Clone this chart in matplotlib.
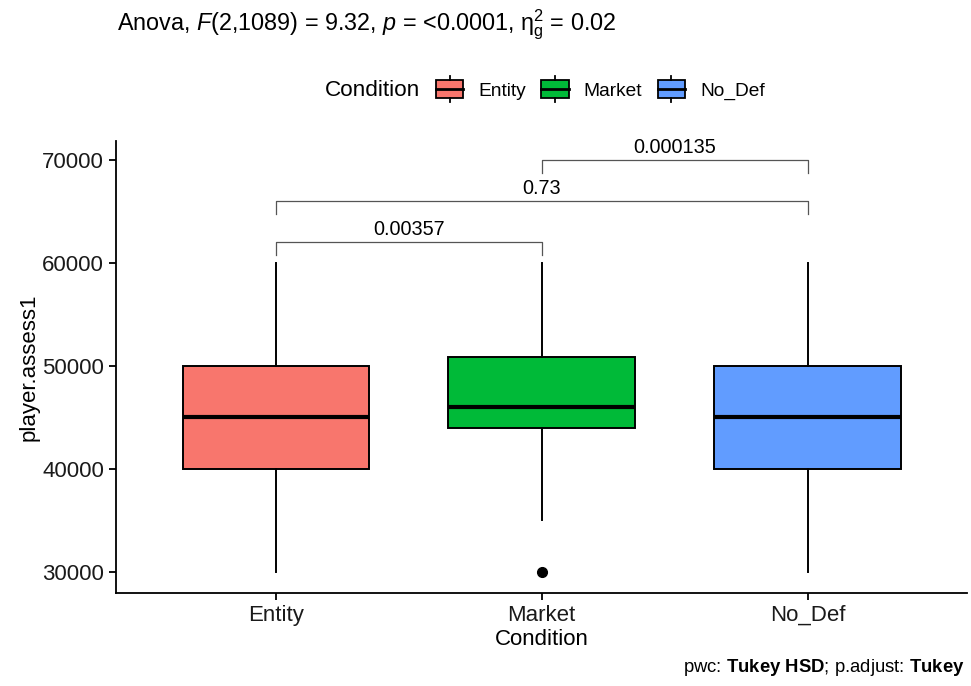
import numpy as np
import matplotlib
matplotlib.use("Agg")
import matplotlib.pyplot as plt
from matplotlib.patches import Rectangle
from matplotlib.lines import Line2D
from matplotlib.legend_handler import HandlerBase

plt.rcParams['font.family'] = ['Liberation Sans', 'DejaVu Sans']
plt.rcParams['mathtext.fontset'] = 'custom'
plt.rcParams['mathtext.rm'] = 'Liberation Sans'
plt.rcParams['mathtext.it'] = 'Liberation Sans:italic'
plt.rcParams['mathtext.bf'] = 'Liberation Sans:bold'

# data
conditions = ['Entity', 'Market', 'No_Def']
colors = ['#F8766D', '#00BA38', '#619CFF']
q1 = [40000, 44000, 40000]
medians = [45000, 46000, 45000]
q3 = [50000, 50850, 50000]
whisker_lo = [30000, 35000, 30000]
whisker_hi = [60000, 60000, 60000]
outliers = [[], [30000], []]

# pairwise comparisons (Tukey HSD)
pair_a = [0, 0, 1]
pair_b = [1, 2, 2]
pair_y = [62000, 66000, 70000]
pair_p = ['0.00357', '0.73', '0.000135']

fig = plt.figure(figsize=(9.71, 6.86), dpi=100)
ax = fig.add_axes([0.1195, 0.1356, 0.8765, 0.659])

stats = []
for i, c in enumerate(conditions):
    stats.append(dict(label=c, med=medians[i], q1=q1[i], q3=q3[i],
                      whislo=whisker_lo[i], whishi=whisker_hi[i],
                      fliers=outliers[i]))

bp = ax.bxp(stats, positions=range(len(conditions)), widths=0.7,
            patch_artist=True, showcaps=False,
            boxprops=dict(linewidth=1.4, edgecolor='black'),
            whiskerprops=dict(linewidth=1.4, color='black'),
            medianprops=dict(linewidth=3, color='black'),
            flierprops=dict(marker='o', markersize=7, markerfacecolor='black',
                            markeredgecolor='black'))
for patch, col in zip(bp['boxes'], colors):
    patch.set_facecolor(col)

# brackets with p-values
tip = 1250
for a, b, y, p in zip(pair_a, pair_b, pair_y, pair_p):
    ax.plot([a, a, b, b], [y - tip, y, y, y - tip], color='#555555', lw=0.9)
    ax.text((a + b) / 2, y + 300, p, ha='center', va='bottom', fontsize=14.3)

ax.set_xlim(-0.6, 2.6)
ax.set_ylim(27930, 71850)
ax.set_yticks([30000, 40000, 50000, 60000, 70000])
ax.set_xticks(range(len(conditions)))
ax.set_xticklabels(conditions)
ax.tick_params(labelsize=16, width=1.3, length=5, color='black', labelcolor='#1a1a1a')
ax.set_xlabel('Condition', fontsize=16, labelpad=2)
ax.set_ylabel('player.assess1', fontsize=16, labelpad=2)
for s in ['top', 'right']:
    ax.spines[s].set_visible(False)
for s in ['left', 'bottom']:
    ax.spines[s].set_linewidth(1.3)


class BoxKey(HandlerBase):
    # ggplot style boxplot key: box, median bar, short whiskers
    def create_artists(self, legend, orig_handle, xdescent, ydescent,
                       width, height, fontsize, trans):
        fc = orig_handle.get_facecolor()
        total = 26.0 / 19.1 * fontsize
        h = total * 0.69
        wl = total * 0.155
        yc = height / 2 - ydescent
        y0 = yc - h / 2
        x0 = -xdescent
        box = Rectangle((x0, y0), width, h, facecolor=fc, edgecolor='black',
                        lw=1.3, transform=trans)
        med = Line2D([x0, x0 + width], [yc] * 2, color='black', lw=2,
                     transform=trans)
        w1 = Line2D([x0 + width / 2] * 2, [y0 + h, y0 + h + wl],
                    color='black', lw=1.3, transform=trans)
        w2 = Line2D([x0 + width / 2] * 2, [y0, y0 - wl],
                    color='black', lw=1.3, transform=trans)
        return [box, med, w1, w2]


handles = [Rectangle((0, 0), 1, 1, facecolor=c) for c in colors]
fig.text(325 / 971, 1 - 91 / 686, 'Condition', fontsize=16.2, ha='left', va='center')
leg = fig.legend(handles, conditions, handler_map={Rectangle: BoxKey()},
                 loc='center left', bbox_to_anchor=(436 / 971, 1 - 90.5 / 686),
                 ncol=3, frameon=False, fontsize=13.75, handlelength=1.42,
                 handleheight=1.0, handletextpad=0.8, columnspacing=0.8,
                 borderpad=0, borderaxespad=0)

fig.text(117 / 971, 1 - 25 / 686,
         r'Anova, $F$(2,1089) = 9.32, $p$ = <0.0001, $\mathrm{\eta}_{\mathrm{g}}^{2}$ = 0.02',
         fontsize=16.8, ha='left', va='center')

fig.text(965 / 971, 1 - 668 / 686,
         r'pwc: $\mathbf{Tukey\ HSD}$; p.adjust: $\mathbf{Tukey}$',
         fontsize=13.3, ha='right', va='center')

fig.savefig('out.png', dpi=100)
